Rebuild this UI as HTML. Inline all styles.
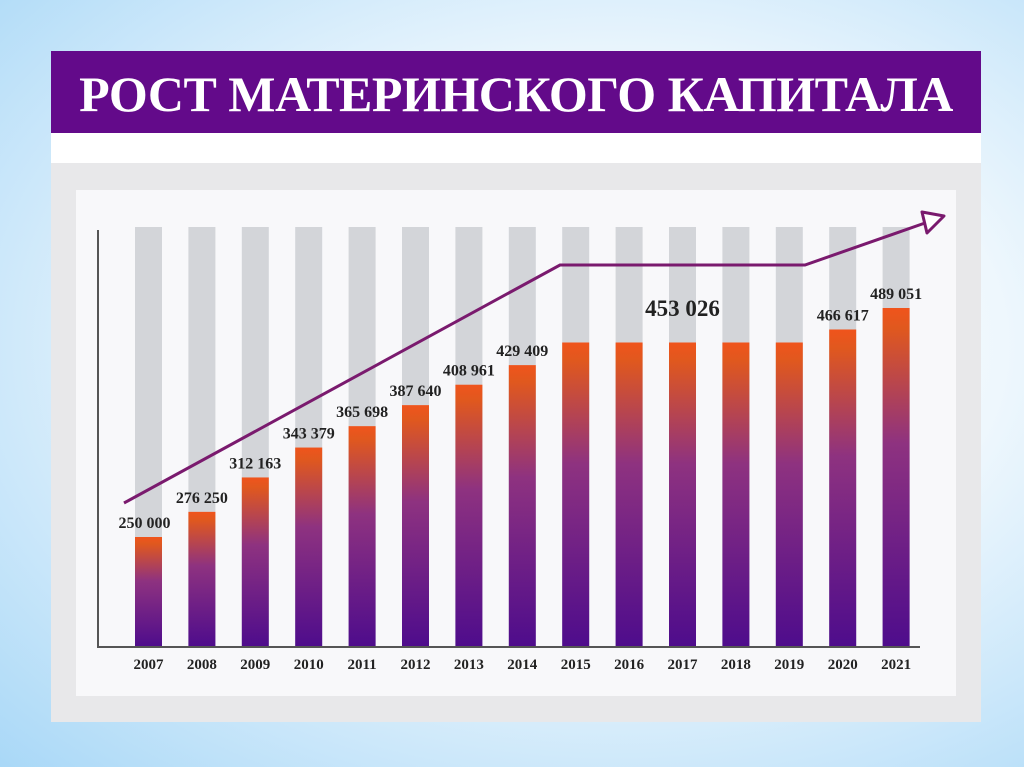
<!DOCTYPE html>
<html><head><meta charset="utf-8">
<style>
body{margin:0;width:1024px;height:767px;overflow:hidden;background:radial-gradient(ellipse at 60% 45%,#ffffff 0%,#eef7fd 45%,#a9d8f7 100%);font-family:"Liberation Serif",serif;}
#card{position:absolute;left:51px;top:51px;width:930px;height:671px;background:#fff;}
#hdr{position:absolute;left:51px;top:51px;width:930px;height:82px;background:#630a8a;}
#title{position:absolute;left:0;top:0;width:930px;height:82px;line-height:86px;text-align:center;color:#fff;font-weight:bold;font-size:50px;letter-spacing:-0.5px;}
#gray{position:absolute;left:51px;top:163px;width:930px;height:559px;background:#e8e8ea;}
#inner{position:absolute;left:76px;top:190px;width:880px;height:506px;background:#f8f8fa;}
svg{position:absolute;left:0;top:0;}
</style></head><body>
<div id="card"></div>
<div id="hdr"><div id="title">РОСТ МАТЕРИНСКОГО КАПИТАЛА</div></div>
<div id="gray"></div>
<div id="inner"></div>
<svg id="chart" width="1024" height="767">
<defs><linearGradient id="g" x1="0" y1="0" x2="0" y2="1">
<stop offset="0" stop-color="#f0541c"/><stop offset="0.06" stop-color="#e0581e"/><stop offset="0.4" stop-color="#8e3280"/><stop offset="1" stop-color="#4e0c8c"/></linearGradient></defs>
</svg>
<script>
const years=["2007","2008","2009","2010","2011","2012","2013","2014","2015","2016","2017","2018","2019","2020","2021"];
const values=[250000,276250,312163,343379,365698,387640,408961,429409,453026,453026,453026,453026,453026,466617,489051];
const labels=["250 000","276 250","312 163","343 379","365 698","387 640","408 961","429 409","","","453 026","","","466 617","489 051"];
const NS="http://www.w3.org/2000/svg";
const svg=document.getElementById('chart');
const baseY=647,bw=27;
function x(i){return 135+i*53.4;}
function y(v){return 776.5-v*0.000958;}
function mk(t,a){const e=document.createElementNS(NS,t);for(const k in a)e.setAttribute(k,a[k]);svg.appendChild(e);return e;}
years.forEach((yr,i)=>{
 const bg=mk('rect',{x:x(i),y:227,width:bw,height:baseY-227,fill:'#d3d5d9'});
 
 
 const b=mk('rect',{x:x(i),y:y(values[i]),width:bw,height:baseY-y(values[i]),fill:'url(#g)'});
 
 
 const t=mk('text',{x:x(i)+bw/2,y:669,'text-anchor':'middle','font-size':'15','font-weight':'bold',fill:'#222'});
 t.textContent=yr;
 
 
 if(labels[i]){
  const big=labels[i]==="453 026";
  const l=mk('text',{x:x(i)+bw/2+(i==0?-4:0),y:big?316:y(values[i])-9,'text-anchor':'middle','font-size':big?'23':'16','font-weight':'bold',fill:'#222'});
  l.textContent=labels[i];
  
  
 }
});
const ax=mk('polyline',{points:'98,230 98,647 920,647',fill:'none',stroke:'#555','stroke-width':'2'});


const tr=mk('polyline',{points:'124,503 560,265 805,265 925,223',fill:'none',stroke:'#7a1a6e','stroke-width':'3'});


const ah=mk('polygon',{points:'922,212 944,216 927,233',fill:'#fff',stroke:'#7a1a6e','stroke-width':'3','stroke-linejoin':'round'});


</script>
</body></html>
